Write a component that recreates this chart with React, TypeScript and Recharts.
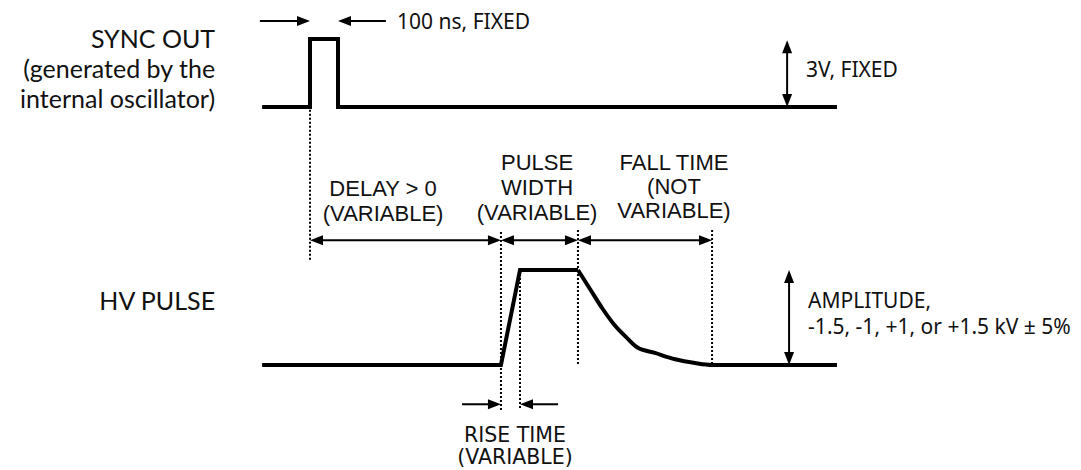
import React from "react";
import {
  ComposedChart,
  Line,
  XAxis,
  YAxis,
  ReferenceLine,
  ReferenceDot,
} from "recharts";

const W = 1081;
const H = 470;

// layout of the scales (not data)
const NS_PX = 0.28; // px per ns
const T0_PX = 310; // sync rising edge
const SYNC_ZERO_PX = 107;
const SYNC_PX_PER_V = 68 / 3;
const HV_ZERO_PX = 365;
const HV_PX_PER_KV = 95 / 1.5;

// SYNC OUT waveform (ns, V)
const syncTime = [-171, 0, 0, 100, 100, 1882];
const syncVolts = [0, 0, 3, 3, 0, 0];

// HV pulse: delay, rise and flat top (ns, kV)
const hvTime = [-171, 682, 750, 957];
const hvKv = [0, 0, 1.5, 1.5];

// HV pulse fall
const fallTime = [957, 1000, 1043, 1086, 1129, 1168, 1232, 1304, 1375, 1436, 1882];
const fallKv = [1.5, 1.2, 0.9, 0.64, 0.44, 0.28, 0.19, 0.09, 0.03, 0, 0];

// dotted edge markers
const edgeTime = [0, 682, 750, 957, 1436];
const edgeTop = [4.03, 2.1, 1.5, 2.13, 2.13];
const edgeBottom = [1.66, -0.71, -0.71, 0, 0];

// dimension row
const dimLevel = 1.97;
const dimFrom = [0, 682, 957];
const dimTo = [682, 957, 1436];

const syncData = syncTime.map((t, i) => ({ t, v: syncVolts[i] }));
const hvData = hvTime.map((t, i) => ({ t, v: hvKv[i] }));
const fallData = fallTime.map((t, i) => ({ t, v: fallKv[i] }));

type Arrow = {
  axis: "sync" | "hv";
  x1: number;
  y1: number;
  x2: number;
  y2: number;
  both: boolean;
};

const arrows: Arrow[] = [
  ...dimFrom.map((f, i) => ({ axis: "hv" as const, x1: f, y1: dimLevel, x2: dimTo[i], y2: dimLevel, both: true })),
  { axis: "sync", x1: -179, y1: 3.79, x2: 0, y2: 3.79, both: false },
  { axis: "sync", x1: 271, y1: 3.79, x2: 100, y2: 3.79, both: false },
  { axis: "sync", x1: 1704, y1: 0, x2: 1704, y2: 2.95, both: true },
  { axis: "hv", x1: 1711, y1: 0, x2: 1711, y2: 1.5, both: true },
  { axis: "hv", x1: 543, y1: -0.62, x2: 682, y2: -0.62, both: false },
  { axis: "hv", x1: 886, y1: -0.62, x2: 750, y2: -0.62, both: false },
];

type Label = {
  axis: "sync" | "hv";
  t: number;
  v: number;
  lines: string[];
  anchor: "start" | "middle" | "end";
  font: string;
  size: number;
  lh: number;
};

const LATO = "Lato, 'Noto Sans', sans-serif";
const NOTO = "'Noto Sans', 'Open Sans', sans-serif";
const DEJAVU = "'DejaVu Sans', Verdana, sans-serif";
const ARIAL = "'Liberation Sans', Arial, sans-serif";

const labels: Label[] = [
  { axis: "sync", t: -339, v: 3.04, lines: ["SYNC OUT", "(generated by the", "internal oscillator)"], anchor: "end", font: LATO, size: 25, lh: 30 },
  { axis: "hv", t: -339, v: 1.03, lines: ["HV PULSE"], anchor: "end", font: LATO, size: 25, lh: 30 },
  { axis: "sync", t: 311, v: 3.79, lines: ["100 ns, FIXED"], anchor: "start", font: NOTO, size: 21, lh: 24 },
  { axis: "sync", t: 1771, v: 1.68, lines: ["3V, FIXED"], anchor: "start", font: NOTO, size: 21, lh: 24 },
  { axis: "hv", t: 261, v: 2.79, lines: ["DELAY > 0", "(VARIABLE)"], anchor: "middle", font: ARIAL, size: 22, lh: 25 },
  { axis: "hv", t: 811, v: 3.2, lines: ["PULSE", "WIDTH", "(VARIABLE)"], anchor: "middle", font: ARIAL, size: 22, lh: 25 },
  { axis: "hv", t: 1300, v: 3.2, lines: ["FALL TIME", "(NOT", "VARIABLE)"], anchor: "middle", font: ARIAL, size: 22, lh: 24 },
  { axis: "hv", t: 1779, v: 1.03, lines: ["AMPLITUDE,", "-1.5, -1, +1, or +1.5 kV ± 5%"], anchor: "start", font: NOTO, size: 21, lh: 26 },
  { axis: "hv", t: 732, v: -1.1, lines: ["RISE TIME", "(VARIABLE)"], anchor: "middle", font: DEJAVU, size: 20.5, lh: 22 },
];

const HEAD_L = 13;
const HEAD_W = 5;

function head(tx: number, ty: number, fx: number, fy: number) {
  const dx = tx - fx;
  const dy = ty - fy;
  const len = Math.hypot(dx, dy) || 1;
  const ux = dx / len;
  const uy = dy / len;
  const bx = tx - ux * HEAD_L;
  const by = ty - uy * HEAD_L;
  const pts = `${tx},${ty} ${bx - uy * HEAD_W},${by + ux * HEAD_W} ${bx + uy * HEAD_W},${by - ux * HEAD_W}`;
  return <polygon points={pts} fill="#000" />;
}

function arrowShape(p: any, both: boolean) {
  const { x1, y1, x2, y2 } = p;
  const len = Math.hypot(x2 - x1, y2 - y1) || 1;
  const ux = (x2 - x1) / len;
  const uy = (y2 - y1) / len;
  const sx = both ? x1 + ux * (HEAD_L - 2) : x1;
  const sy = both ? y1 + uy * (HEAD_L - 2) : y1;
  const ex = x2 - ux * (HEAD_L - 2);
  const ey = y2 - uy * (HEAD_L - 2);
  return (
    <g>
      <line x1={sx} y1={sy} x2={ex} y2={ey} stroke="#000" strokeWidth={2} />
      {head(x2, y2, x1, y1)}
      {both && head(x1, y1, x2, y2)}
    </g>
  );
}

function labelShape(p: any, l: Label) {
  return (
    <text
      x={p.cx}
      y={p.cy}
      textAnchor={l.anchor}
      dominantBaseline="central"
      fontFamily={l.font}
      fontSize={l.size}
      fill="#111"
    >
      {l.lines.map((s, i) => (
        <tspan key={i} x={p.cx} dy={i === 0 ? 0 : l.lh}>
          {s}
        </tspan>
      ))}
    </text>
  );
}

export default function App() {
  const xDomain = [-T0_PX / NS_PX, (W - T0_PX) / NS_PX];
  const syncDomain = [-(H - SYNC_ZERO_PX) / SYNC_PX_PER_V, SYNC_ZERO_PX / SYNC_PX_PER_V];
  const hvDomain = [-(H - HV_ZERO_PX) / HV_PX_PER_KV, HV_ZERO_PX / HV_PX_PER_KV];

  return (
    <div style={{ position: "absolute", left: 0, top: 0, width: W, height: H, background: "#fff" }}>
      <ComposedChart width={W} height={H} margin={{ top: 0, right: 0, bottom: 0, left: 0 }}>
        <XAxis
          dataKey="t"
          type="number"
          domain={xDomain}
          ticks={xDomain}
          allowDataOverflow
          hide
        />
        <YAxis yAxisId="sync" type="number" domain={syncDomain} ticks={syncDomain} allowDataOverflow hide />
        <YAxis yAxisId="hv" type="number" domain={hvDomain} ticks={hvDomain} allowDataOverflow hide />

        {edgeTime.map((t, i) => (
          <ReferenceLine
            key={`edge-${i}`}
            yAxisId="hv"
            segment={[
              { x: t, y: edgeTop[i] },
              { x: t, y: edgeBottom[i] },
            ]}
            stroke="#000"
            strokeWidth={2}
            strokeDasharray="2 2"
            ifOverflow="visible"
          />
        ))}

        <Line
          yAxisId="sync"
          data={syncData}
          dataKey="v"
          type="linear"
          stroke="#000"
          strokeWidth={4}
          dot={false}
          activeDot={false}
          isAnimationActive={false}
        />
        <Line
          yAxisId="hv"
          data={hvData}
          dataKey="v"
          type="linear"
          stroke="#000"
          strokeWidth={4}
          dot={false}
          activeDot={false}
          isAnimationActive={false}
        />
        <Line
          yAxisId="hv"
          data={fallData}
          dataKey="v"
          type="monotone"
          stroke="#000"
          strokeWidth={4}
          dot={false}
          activeDot={false}
          isAnimationActive={false}
        />

        {arrows.map((a, i) => (
          <ReferenceLine
            key={`arrow-${i}`}
            yAxisId={a.axis}
            segment={[
              { x: a.x1, y: a.y1 },
              { x: a.x2, y: a.y2 },
            ]}
            ifOverflow="visible"
            shape={(p: any) => arrowShape(p, a.both)}
          />
        ))}

        {labels.map((l, i) => (
          <ReferenceDot
            key={`label-${i}`}
            yAxisId={l.axis}
            x={l.t}
            y={l.v}
            r={0}
            ifOverflow="visible"
            shape={(p: any) => labelShape(p, l)}
          />
        ))}
      </ComposedChart>
    </div>
  );
}
